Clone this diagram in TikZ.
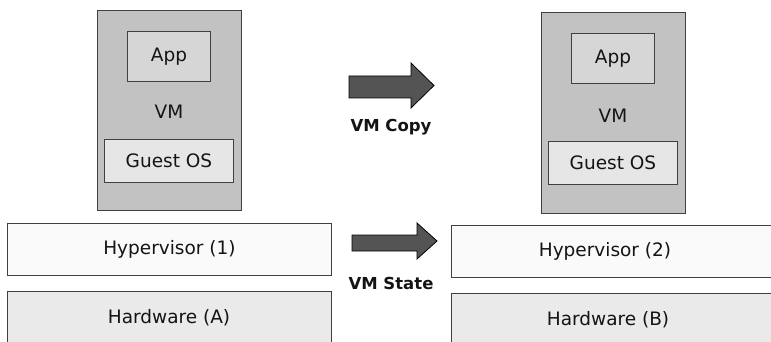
\documentclass[tikz,border=0pt]{standalone}
\usepackage{fontspec}
\setmainfont{DejaVu Sans}
\begin{document}
\begin{tikzpicture}[x=1pt,y=-1pt,
  box/.style={draw=black!75, line width=0.9pt, inner sep=0pt, anchor=north west},
  lbl/.style={font=\fontsize{18.5}{22}\selectfont, text=black!92, inner sep=0pt},
  albl/.style={font=\bfseries\fontsize{16.5}{20}\selectfont, text=black!92, inner sep=0pt},
  bigarrow/.style={draw=black, line width=0.8pt, fill=black!67, line join=miter}
]
\useasboundingbox (0,0) rectangle (771,342);
\definecolor{vmfill}{HTML}{C2C2C2}
\definecolor{appfill}{HTML}{D6D6D6}
\definecolor{osfill}{HTML}{E6E6E6}
\definecolor{hypfill}{HTML}{FAFAFA}
\definecolor{hwfill}{HTML}{EAEAEA}
% left stack
\node[box, fill=vmfill, minimum width=144pt, minimum height=200pt] (vmA) at (97,10) {};
\node[box, fill=appfill, minimum width=83pt, minimum height=50pt] (appA) at (127,31) {};
\node[lbl] at (appA.center) {App};
\node[lbl] (vmlA) at (169,112) {VM};
\node[box, fill=osfill, minimum width=129pt, minimum height=43pt] (osA) at (104,139) {};
\node[lbl] at (osA.center) {Guest OS};
\node[box, fill=hypfill, minimum width=324pt, minimum height=52pt] (hypA) at (7,223) {};
\node[lbl] at (hypA.center) {Hypervisor (1)};
\node[box, fill=hwfill, minimum width=324pt, minimum height=80pt] (hwA) at (7,291) {};
\node[lbl] at (169,318) {Hardware (A)};
% right stack
\node[box, fill=vmfill, minimum width=144pt, minimum height=201pt] (vmB) at (541,12) {};
\node[box, fill=appfill, minimum width=83pt, minimum height=50pt] (appB) at (571,33) {};
\node[lbl] at (appB.center) {App};
\node[lbl] (vmlB) at (613,116) {VM};
\node[box, fill=osfill, minimum width=129pt, minimum height=43pt] (osB) at (548,141) {};
\node[lbl] at (osB.center) {Guest OS};
\node[box, fill=hypfill, minimum width=360pt, minimum height=52pt] (hypB) at (451,225) {};
\node[lbl] at (605,251) {Hypervisor (2)};
\node[box, fill=hwfill, minimum width=360pt, minimum height=80pt] (hwB) at (451,293) {};
\node[lbl] at (608,320) {Hardware (B)};
% arrows
\draw[bigarrow] (349,76) -- (411,76) -- (411,63) -- (434,85.5) -- (411,108) -- (411,98) -- (349,98) -- cycle;
\node[albl] (copy) at (391,127) {VM Copy};
\draw[bigarrow] (352,235) -- (417,235) -- (417,223) -- (437,241) -- (417,259) -- (417,251) -- (352,251) -- cycle;
\node[albl] (state) at (391,283) {VM State};
\end{tikzpicture}
\end{document}
